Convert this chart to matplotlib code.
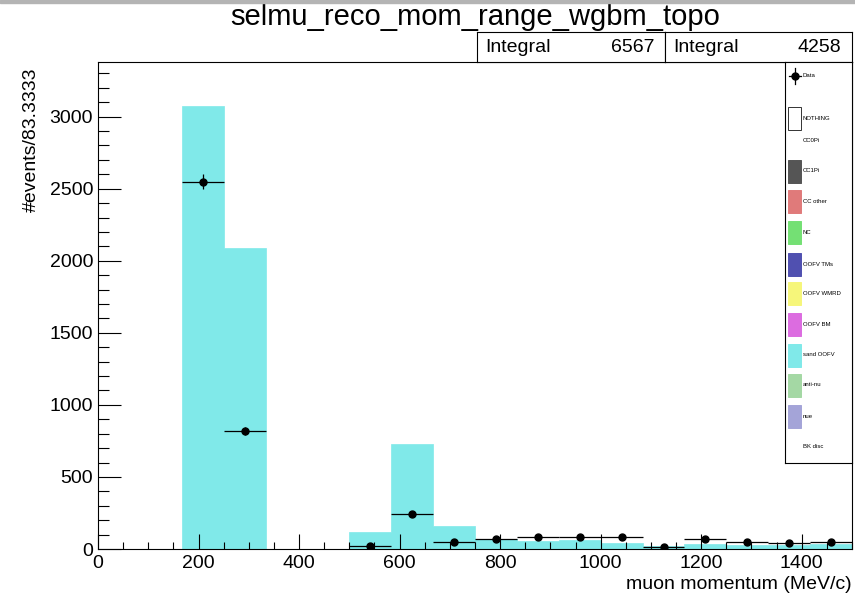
import numpy as np
import matplotlib
matplotlib.use('Agg')
import matplotlib.pyplot as plt
from matplotlib.patches import Rectangle
from matplotlib.ticker import MultipleLocator

plt.rcParams['font.family'] = ['Liberation Sans', 'DejaVu Sans']

# binning: 18 bins of 83.3333 MeV/c between 0 and 1500
bin_edges = np.linspace(0, 1500, 19)

# stacked MC (only sand OOFV has visible content)
sand_oofv = [0, 0, 3072, 2088, 0, 0, 117, 729, 160, 69, 55, 62, 43, 18, 35, 29, 29, 37]

# data points (0 = empty bin, not drawn)
data_counts = [0, 0, 2549, 817, 0, 0, 23, 243, 50, 69, 80, 80, 80, 14, 69, 51, 39, 46]

mc_integral = 6567
data_integral = 4258

legend_labels = ['Data', 'NOTHING', 'CC0Pi', 'CC1Pi', 'CC other', 'NC', 'OOFV TMs',
                 'OOFV WMRD', 'OOFV BM', 'sand OOFV', 'anti-nu', 'nue', 'BK disc']
legend_colors = [None, 'white', None, '#555555', '#e07a7a', '#74e074', '#5050b0',
                 '#f6f67a', '#dc6ce0', '#80e9e9', '#a4d8a4', '#a4a4d8', None]

W, H = 855, 594
fig = plt.figure(figsize=(W / 100, H / 100), dpi=100)

# main frame
ax = fig.add_axes([98 / W, 1 - 549 / H, 754 / W, 487 / H])
ax.stairs(sand_oofv, bin_edges, fill=True, facecolor='#80e9e9', edgecolor='#80e9e9', lw=0.5)

centers = 0.5 * (bin_edges[:-1] + bin_edges[1:])
half = 0.5 * np.diff(bin_edges)
d = np.array(data_counts, dtype=float)
m = d > 0
ax.errorbar(centers[m], d[m], xerr=half[m], yerr=np.sqrt(d[m]), fmt='o', color='black',
            ms=5, elinewidth=0.9, capsize=0)

ax.set_xlim(0, 1500)
ax.set_ylim(0, 1.1 * max(sand_oofv))
ax.xaxis.set_major_locator(MultipleLocator(200))
ax.xaxis.set_minor_locator(MultipleLocator(50))
ax.yaxis.set_major_locator(MultipleLocator(500))
ax.yaxis.set_minor_locator(MultipleLocator(100))
ax.tick_params(axis='x', which='major', direction='in', length=10.5, width=0.8, labelsize=14, pad=4)
ax.tick_params(axis='x', which='minor', direction='in', length=5.3, width=0.8)
ax.tick_params(axis='y', which='major', direction='in', length=16.3, width=0.8, labelsize=14, pad=3.5)
ax.tick_params(axis='y', which='minor', direction='in', length=8.1, width=0.8)
for s in ax.spines.values():
    s.set_linewidth(0.8)

ax.set_ylabel('#events/83.3333', fontsize=14, loc='top')
ax.yaxis.set_label_coords(-0.077, 0.988)
ax.set_xlabel('muon momentum (MeV/c)', fontsize=14, loc='right')
ax.xaxis.set_label_coords(1.0, -0.055)
ax.set_title('selmu_reco_mom_range_wgbm_topo', fontsize=21, pad=26.5)

# stats boxes
for i, (x0, x1, val) in enumerate([(477, 665, mc_integral), (665, 852, data_integral)]):
    sb = fig.add_axes([x0 / W, 1 - 62 / H, (x1 - x0) / W, 30 / H])
    sb.set_xticks([])
    sb.set_yticks([])
    for s in sb.spines.values():
        s.set_linewidth(0.8)
    sb.text(8 / (x1 - x0), 0.5, 'Integral', fontsize=14, va='center', ha='left', transform=sb.transAxes)
    sb.text(1 - 11 / (x1 - x0), 0.5, str(val), fontsize=14, va='center', ha='right', transform=sb.transAxes)

# legend box
lg = fig.add_axes([785 / W, 1 - 463 / H, 67 / W, 401 / H])
lg.set_xlim(0, 67)
lg.set_ylim(401, 0)
lg.set_xticks([])
lg.set_yticks([])
for s in lg.spines.values():
    s.set_linewidth(0.8)
ypos = [13.7, 56.3, 78, 109, 139.7, 170.3, 202, 231.3, 262.3, 293, 323, 354, 384.7]
for lab, col, y in zip(legend_labels, legend_colors, ypos):
    if lab == 'Data':
        lg.plot([3.5, 16], [y, y], color='black', lw=0.9)
        lg.plot([9.5, 9.5], [y - 8, y + 8], color='black', lw=0.9)
        lg.plot([9.5], [y], 'o', color='black', ms=5)
    elif lab == 'NOTHING':
        lg.add_patch(Rectangle((3, y - 11.5), 13, 23, facecolor='white', edgecolor='#333333', lw=0.7))
    elif col is not None:
        lg.add_patch(Rectangle((3, y - 11.5), 13, 23, facecolor=col, edgecolor=col, lw=0.7,
                               hatch='.....' if lab == 'CC1Pi' else None))
    lg.text(17.5, y, lab, fontsize=4.3, va='center', ha='left')

# grey window border at top
fig.add_artist(Rectangle((0, 1 - 3 / H), 1, 3 / H, color='#b4b4b4', transform=fig.transFigure))

fig.savefig('out.png', dpi=100)
